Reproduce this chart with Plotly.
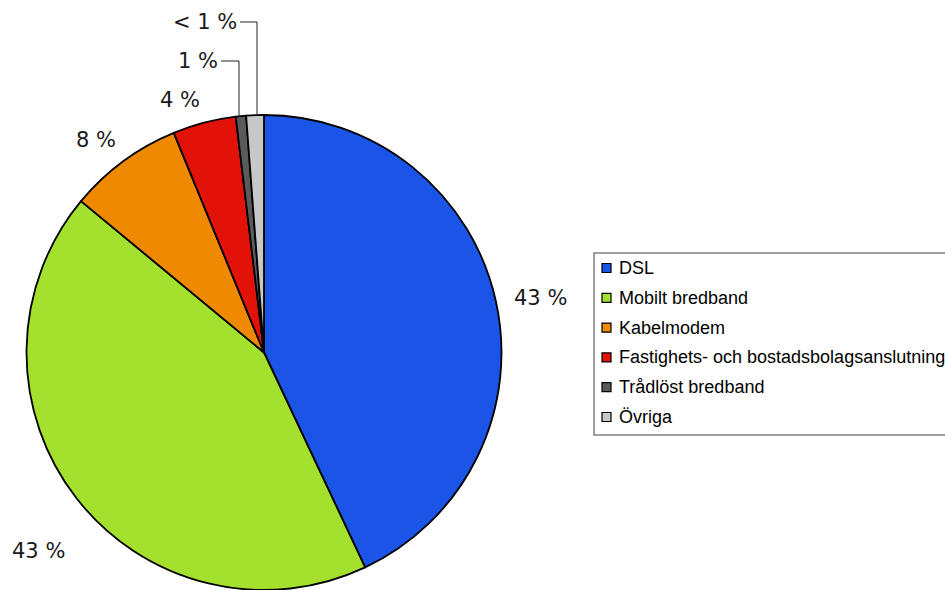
import plotly.graph_objects as go

# data
categories = ["DSL", "Mobilt bredband", "Kabelmodem",
              "Fastighets- och bostadsbolagsanslutning",
              "Trådlöst bredband", "Övriga"]
shares = [43.0, 43.0, 7.8, 4.3, 0.7, 1.2]
share_labels = ["43 %", "43 %", "8 %", "4 %", "1 %", "< 1 %"]
colors = ["#1b55e8", "#a4e02e", "#ef8900", "#e31208", "#5a5a5a", "#c8c8c8"]

W, H = 945, 590
CX, CY, R = 264, 353.5, 238.5


def px(x):
    return x / W


def py(y):
    return 1 - y / H


fig = go.Figure(go.Pie(
    labels=categories,
    values=shares,
    sort=False,
    direction="clockwise",
    rotation=0,
    marker=dict(colors=colors, line=dict(color="black", width=1.8)),
    textinfo="none",
    hoverinfo="label+percent",
    showlegend=False,
    domain=dict(x=[px(CX - R), px(CX + R)], y=[max(0, py(CY + R)), py(CY - R)]),
))

# slice labels (pixel centres, Excel-style placement)
label_pos = [(540, 298), (38, 551), (96, 140), (180, 100), (198, 61), (205, 22)]
annotations = []
for txt, (x, y) in zip(share_labels, label_pos):
    annotations.append(dict(
        x=px(x), y=py(y), xref="paper", yref="paper", text=txt,
        showarrow=False, xanchor="center", yanchor="middle",
        font=dict(family="DejaVu Sans", size=21, color="#1a1a1a"),
    ))

shapes = []
# leader lines for the two thin slices
for (x0, x1, y0, y1) in [(221, 239, 61, 117), (240, 257, 22, 116)]:
    shapes.append(dict(
        type="path", xref="paper", yref="paper",
        path=f"M {px(x0)},{py(y0)} L {px(x1)},{py(y0)} L {px(x1)},{py(y1)}",
        line=dict(color="#222222", width=1),
    ))

# legend box drawn by hand
LX, LY0, LY1 = 594, 253, 435
shapes.append(dict(
    type="rect", xref="paper", yref="paper",
    x0=px(LX), x1=px(W + 20), y0=py(LY1), y1=py(LY0),
    line=dict(color="#7f7f7f", width=1.5), fillcolor="white", layer="below",
))
row_y0, row_step = 268, 29.8
for i, (name, col) in enumerate(zip(categories, colors)):
    yc = row_y0 + i * row_step
    shapes.append(dict(
        type="rect", xref="paper", yref="paper",
        x0=px(602), x1=px(611), y0=py(yc + 4.5), y1=py(yc - 4.5),
        fillcolor=col, line=dict(color="black", width=1.2),
    ))
    annotations.append(dict(
        x=px(617), y=py(yc), xref="paper", yref="paper", text=name,
        showarrow=False, xanchor="left", yanchor="middle",
        font=dict(family="Liberation Sans", size=18, color="black"),
    ))

fig.update_layout(
    width=W, height=H,
    margin=dict(l=0, r=0, t=0, b=0),
    paper_bgcolor="white",
    plot_bgcolor="white",
    annotations=annotations,
    shapes=shapes,
)

fig.write_html("out.html", config={"displayModeBar": False},
               post_script="document.body.style.margin='0px';")
